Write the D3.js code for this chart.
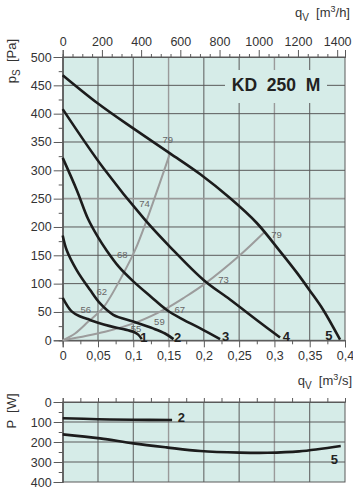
<!DOCTYPE html>
<html>
<head>
<meta charset="utf-8">
<script src="https://cdn.jsdelivr.net/npm/d3@7"></script>
<style>
  body { margin: 0; background: #fff; }
  svg text { font-family: "Liberation Sans", Arial, sans-serif; fill: #333; }
</style>
</head>
<body>
<svg id="chart" width="353" height="490"></svg>
<script>
// fan curves, q in m3/s, ps in Pa
const curve1 = [[0, 75], [0.0127, 51], [0.025, 42], [0.0387, 36], [0.05, 31], [0.067, 25], [0.085, 20], [0.1, 15], [0.107, 10], [0.112, 2]];
const curve2 = [[0, 185], [0.0057, 159], [0.0198, 124], [0.0387, 89], [0.053, 65], [0.0717, 45], [0.1, 33], [0.128, 21], [0.145, 12], [0.157, 2]];
const curve3 = [[0, 322], [0.02, 265], [0.036, 214], [0.05, 182], [0.062, 159], [0.08, 129], [0.1, 104], [0.125, 77], [0.147, 54], [0.17, 37], [0.195, 21], [0.223, 2]];
const curve4 = [[0, 408], [0.0576, 304], [0.117, 212], [0.152, 165], [0.2, 106], [0.237, 72], [0.28, 31], [0.308, 5]];
const curve5 = [[0, 468], [0.05, 418], [0.1, 374], [0.152, 330], [0.195, 293], [0.237, 251], [0.275, 207], [0.308, 157], [0.332, 119], [0.35, 88], [0.369, 54], [0.393, 1]];
const fanCurves = [curve1, curve2, curve3, curve4, curve5];
const curveNames = ['1', '2', '3', '4', '5'];
const curveLabelPos = [[0.115, 6], [0.163, 6], [0.231, 8], [0.317, 7], [0.377, 9]];

// efficiency (system) lines
const effLeft = [[0, 0], [0.0175, 12], [0.0363, 33], [0.0576, 58], [0.086, 118], [0.1025, 159], [0.119, 212], [0.152, 330]];
const effRight = [[0, 0], [0.06, 15], [0.107, 33], [0.145, 55], [0.173, 76], [0.2017, 100], [0.251, 150], [0.286, 191]];
const effLabels = ['79', '74', '68', '62', '56', '55', '59', '67', '73', '79'];
const effLabelPos = [[0.149, 355], [0.116, 242], [0.0845, 151], [0.0553, 87], [0.0327, 55], [0.104, 20], [0.137, 34], [0.166, 55], [0.228, 108], [0.303, 187]];

// power curves, P in W
const power2 = [[0, 81], [0.05, 86], [0.1, 89], [0.155, 90]];
const power5 = [[0, 162], [0.053, 182], [0.1, 207], [0.147, 227], [0.195, 245], [0.251, 253], [0.29, 254], [0.335, 247], [0.394, 220]];
const powerNames = ['2', '5'];
const powerLabelPos = [[0.168, 73], [0.385, 286]];

const qTicks = [0, 0.05, 0.1, 0.15, 0.2, 0.25, 0.3, 0.35, 0.4];
const qhTicks = [0, 200, 400, 600, 800, 1000, 1200, 1400];
const psTicks = [0, 50, 100, 150, 200, 250, 300, 350, 400, 450, 500];
const pTicks = [0, 100, 200, 300, 400];

const svg = d3.select('#chart');
const plotBg = '#d6ece8';
const gridDark = '#5a5a5a';
const gridGrey = '#9a9a9a';
const curveColor = '#1c1c1c';

const x = d3.scaleLinear().domain([0, 0.4]).range([62.7, 345]);
const xh = d3.scaleLinear().domain([0, 1440]).range([62.7, 345]);
const y = d3.scaleLinear().domain([0, 500]).range([340.3, 57]);
const yP = d3.scaleLinear().domain([0, 400]).range([402, 482]);

const fmtComma = d => d === 0 ? '0' : String(d).replace('.', ',');

// ---------- main plot ----------
const gMain = svg.append('g').attr('class', 'g_main');

gMain.append('rect')
  .attr('x', x(0)).attr('y', y(500))
  .attr('width', x(0.4) - x(0)).attr('height', y(0) - y(500))
  .style('fill', plotBg);

gMain.selectAll('.v_grid')
  .data(qTicks.slice(1, -1))
  .enter()
  .append('line')
  .attr('class', 'v_grid')
  .attr('x1', d => x(d)).attr('x2', d => x(d))
  .attr('y1', y(0)).attr('y2', y(500))
  .style('stroke', d => (d === 0.15 || d === 0.3) ? gridGrey : gridDark)
  .style('stroke-width', d => (d === 0.15 || d === 0.3) ? 1.4 : 1);

gMain.selectAll('.h_grid')
  .data(psTicks.slice(1, -1))
  .enter()
  .append('line')
  .attr('class', 'h_grid')
  .attr('x1', x(0)).attr('x2', x(0.4))
  .attr('y1', d => y(d)).attr('y2', d => y(d))
  .style('stroke', d => d === 250 ? gridGrey : gridDark)
  .style('stroke-width', d => d === 250 ? 1.6 : 1);

// title box
gMain.append('rect')
  .attr('x', 225).attr('y', 70).attr('width', 102).attr('height', 33)
  .style('fill', plotBg);
gMain.append('text')
  .attr('x', 276).attr('y', y(450) + 6)
  .attr('text-anchor', 'middle')
  .style('font-size', '17.5px').style('font-weight', 'bold').style('fill', '#222')
  .attr('xml:space', 'preserve')
  .text('KD  250  M');

// frame
gMain.append('rect')
  .attr('x', x(0)).attr('y', y(500))
  .attr('width', x(0.4) - x(0)).attr('height', y(0) - y(500))
  .style('fill', 'none').style('stroke', gridDark).style('stroke-width', 1);

// axes
const yAxis = d3.axisLeft(y).tickValues(psTicks).tickSize(9).tickPadding(2).tickFormat(d3.format('d'));
const yMinor = d3.axisLeft(y).tickValues(d3.range(25, 500, 50)).tickSize(4).tickFormat('');
const xAxis = d3.axisBottom(x).tickValues(qTicks).tickSize(7).tickPadding(4).tickFormat(fmtComma);
const xMinor = d3.axisBottom(x).tickValues(d3.range(0.025, 0.4, 0.05)).tickSize(4).tickFormat('');
const xhAxis = d3.axisTop(xh).tickValues(qhTicks).tickSize(7).tickPadding(4).tickFormat(d3.format('d'));
const xhMinor = d3.axisTop(xh).tickValues(d3.range(50, 1440, 50).filter(d => d % 200 !== 0)).tickSize(3).tickFormat('');

function styleAxis(g) {
  g.select('.domain').style('stroke', gridDark);
  g.selectAll('.tick line').style('stroke', gridDark);
  g.selectAll('.tick text').style('font-size', '12.5px').style('fill', '#333')
    .style('font-family', '"Liberation Sans", Arial, sans-serif');
}

gMain.append('g').attr('transform', 'translate(' + x(0) + ',0)').call(yAxis).call(styleAxis);
gMain.append('g').attr('transform', 'translate(' + x(0) + ',0)').call(yMinor).call(styleAxis);
gMain.append('g').attr('transform', 'translate(0,' + y(0) + ')').call(xAxis).call(styleAxis);
gMain.append('g').attr('transform', 'translate(0,' + y(0) + ')').call(xMinor).call(styleAxis);
gMain.append('g').attr('transform', 'translate(0,' + y(500) + ')').call(xhAxis).call(styleAxis);
gMain.append('g').attr('transform', 'translate(0,' + y(500) + ')').call(xhMinor).call(styleAxis);

// curves
const line = d3.line().x(d => x(d[0])).y(d => y(d[1])).curve(d3.curveCatmullRom.alpha(0.5));

gMain.selectAll('.eff_line')
  .data([effLeft, effRight])
  .enter()
  .append('path')
  .attr('class', 'eff_line')
  .attr('d', line)
  .style('fill', 'none').style('stroke', '#9c9c9c').style('stroke-width', 2);

gMain.selectAll('.eff_label')
  .data(effLabels)
  .enter()
  .append('text')
  .attr('class', 'eff_label')
  .attr('x', (d, i) => x(effLabelPos[i][0]))
  .attr('y', (d, i) => y(effLabelPos[i][1]) + 3.5)
  .attr('text-anchor', 'middle')
  .style('font-size', '9.5px').style('fill', '#666')
  .text(d => d);

gMain.selectAll('.fan_curve')
  .data(fanCurves)
  .enter()
  .append('path')
  .attr('class', (d, i) => 'fan_curve fan_curve_' + i)
  .attr('d', line)
  .style('fill', 'none').style('stroke', curveColor).style('stroke-width', 2.6);

gMain.selectAll('.curve_label')
  .data(curveNames)
  .enter()
  .append('text')
  .attr('class', 'curve_label')
  .attr('x', (d, i) => x(curveLabelPos[i][0]))
  .attr('y', (d, i) => y(curveLabelPos[i][1]) + 5)
  .attr('text-anchor', 'middle')
  .style('font-size', '13px').style('font-weight', 'bold').style('fill', '#222')
  .text(d => d);

// axis titles
const psTitle = svg.append('text')
  .attr('transform', 'translate(16,61) rotate(-90)')
  .attr('text-anchor', 'middle')
  .style('font-size', '13px');
psTitle.append('tspan').text('p');
psTitle.append('tspan').attr('dy', 4).style('font-size', '10px').text('S');
psTitle.append('tspan').attr('dy', -4).attr('xml:space', 'preserve').text('  [Pa]');

const qhTitle = svg.append('text')
  .attr('x', 350).attr('y', 17)
  .attr('text-anchor', 'end')
  .style('font-size', '13px');
qhTitle.append('tspan').text('q');
qhTitle.append('tspan').attr('dy', 4).style('font-size', '10px').text('V');
qhTitle.append('tspan').attr('dy', -4).attr('xml:space', 'preserve').text('  [m');
qhTitle.append('tspan').attr('dy', -5).style('font-size', '9px').text('3');
qhTitle.append('tspan').attr('dy', 5).text('/h]');

const qsTitle = svg.append('text')
  .attr('x', 352).attr('y', 385)
  .attr('text-anchor', 'end')
  .style('font-size', '13px');
qsTitle.append('tspan').text('q');
qsTitle.append('tspan').attr('dy', 4).style('font-size', '10px').text('V');
qsTitle.append('tspan').attr('dy', -4).attr('xml:space', 'preserve').text('  [m');
qsTitle.append('tspan').attr('dy', -5).style('font-size', '9px').text('3');
qsTitle.append('tspan').attr('dy', 5).text('/s]');

// ---------- power plot ----------
const gPow = svg.append('g').attr('class', 'g_power');

gPow.append('rect')
  .attr('x', x(0)).attr('y', yP(0))
  .attr('width', x(0.4) - x(0)).attr('height', yP(400) - yP(0))
  .style('fill', plotBg);

gPow.selectAll('.v_grid_p')
  .data(qTicks.slice(1, -1))
  .enter()
  .append('line')
  .attr('class', 'v_grid_p')
  .attr('x1', d => x(d)).attr('x2', d => x(d))
  .attr('y1', yP(0)).attr('y2', yP(400))
  .style('stroke', d => (d === 0.15 || d === 0.3) ? gridGrey : gridDark)
  .style('stroke-width', d => (d === 0.15 || d === 0.3) ? 1.4 : 1);

gPow.selectAll('.h_grid_p')
  .data(pTicks.slice(1, -1))
  .enter()
  .append('line')
  .attr('class', 'h_grid_p')
  .attr('x1', x(0)).attr('x2', x(0.4))
  .attr('y1', d => yP(d)).attr('y2', d => yP(d))
  .style('stroke', gridDark).style('stroke-width', 1);

gPow.append('rect')
  .attr('x', x(0)).attr('y', yP(0))
  .attr('width', x(0.4) - x(0)).attr('height', yP(400) - yP(0))
  .style('fill', 'none').style('stroke', gridDark).style('stroke-width', 1);

const pAxis = d3.axisLeft(yP).tickValues(pTicks).tickSize(9).tickPadding(2).tickFormat(d3.format('d'));
const pMinor = d3.axisLeft(yP).tickValues([50, 150, 250, 350]).tickSize(4).tickFormat('');
const xTopP = d3.axisTop(x).tickValues(d3.range(0, 0.41, 0.025)).tickSize(4).tickFormat('');

gPow.append('g').attr('transform', 'translate(' + x(0) + ',0)').call(pAxis).call(styleAxis);
gPow.append('g').attr('transform', 'translate(' + x(0) + ',0)').call(pMinor).call(styleAxis);
gPow.append('g').attr('transform', 'translate(0,' + yP(0) + ')').call(xTopP).call(styleAxis);

const lineP = d3.line().x(d => x(d[0])).y(d => yP(d[1])).curve(d3.curveCatmullRom.alpha(0.5));

gPow.selectAll('.power_curve')
  .data([power2, power5])
  .enter()
  .append('path')
  .attr('class', 'power_curve')
  .attr('d', lineP)
  .style('fill', 'none').style('stroke', curveColor).style('stroke-width', 2.6);

gPow.selectAll('.power_label')
  .data(powerNames)
  .enter()
  .append('text')
  .attr('class', 'power_label')
  .attr('x', (d, i) => x(powerLabelPos[i][0]))
  .attr('y', (d, i) => yP(powerLabelPos[i][1]) + 5)
  .attr('text-anchor', 'middle')
  .style('font-size', '13px').style('font-weight', 'bold').style('fill', '#222')
  .text(d => d);

const pTitle = svg.append('text')
  .attr('transform', 'translate(16,411) rotate(-90)')
  .attr('text-anchor', 'middle')
  .attr('xml:space', 'preserve')
  .style('font-size', '13px')
  .text('P  [W]');
</script>
</body>
</html>
